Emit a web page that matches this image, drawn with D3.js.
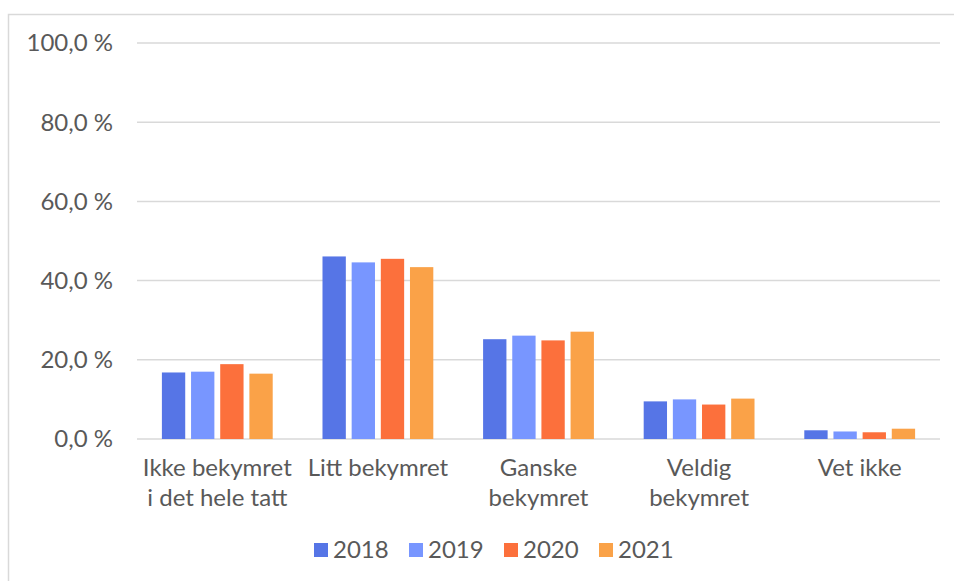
<!DOCTYPE html>
<html>
<head>
<meta charset="utf-8">
<script src="https://cdn.jsdelivr.net/npm/d3@7"></script>
<style>
  body { margin: 0; background: #fff; }
  svg { display: block; font-family: Lato, "Noto Sans", sans-serif; }
</style>
</head>
<body>
<div id="chart"></div>
<script>
const categories = [
  ["Ikke bekymret", "i det hele tatt"],
  ["Litt bekymret"],
  ["Ganske", "bekymret"],
  ["Veldig", "bekymret"],
  ["Vet ikke"]
];
const years = ["2018", "2019", "2020", "2021"];
const values2018 = [16.8, 46.1, 25.2, 9.5, 2.2];
const values2019 = [17.0, 44.6, 26.1, 10.0, 1.9];
const values2020 = [18.9, 45.5, 24.9, 8.7, 1.7];
const values2021 = [16.5, 43.4, 27.1, 10.2, 2.6];
const yTicks = [0, 20, 40, 60, 80, 100];
const colors = ["#5675E6", "#7896FF", "#FC703C", "#FAA248"];

const series = [values2018, values2019, values2020, values2021];
const data = categories.map((c, i) => ({
  key: i,
  label: c,
  vals: years.map((y, j) => ({year: y, value: series[j][i]}))
}));

const width = 954, height = 581;
const margin = {top: 43, right: 14, bottom: 142, left: 137};
const fontSize = 24;

const svg = d3.select("#chart").append("svg")
  .attr("width", width)
  .attr("height", height);

// outer frame
svg.append("path")
  .attr("d", `M8.5,${height}V14.5H${width}`)
  .attr("fill", "none")
  .attr("stroke", "#d9d9d9")
  .attr("stroke-width", 1.5);

const x0 = d3.scaleBand()
  .domain(data.map(d => d.key))
  .range([margin.left, width - margin.right])
  .paddingInner(0.31)
  .paddingOuter(0.155);

const x1 = d3.scaleBand()
  .domain(years)
  .range([0, x0.bandwidth()])
  .paddingInner(0.2);

const y = d3.scaleLinear()
  .domain([0, 100])
  .range([height - margin.bottom, margin.top]);

// grid
svg.append("g")
  .selectAll("line")
  .data(yTicks)
  .join("line")
  .attr("x1", margin.left)
  .attr("x2", width - margin.right)
  .attr("y1", d => y(d))
  .attr("y2", d => y(d))
  .attr("stroke", "#d9d9d9")
  .attr("stroke-width", 1.5);

// y labels
svg.append("g")
  .selectAll("text")
  .data(yTicks)
  .join("text")
  .attr("x", 113)
  .attr("y", d => y(d))
  .attr("dy", "0.35em")
  .attr("text-anchor", "end")
  .attr("fill", "#595959")
  .attr("font-size", fontSize)
  .text(d => d.toFixed(1).replace(".", ",") + " %");

// bars
svg.append("g")
  .selectAll("g")
  .data(data)
  .join("g")
  .attr("transform", d => `translate(${x0(d.key)},0)`)
  .selectAll("rect")
  .data(d => d.vals)
  .join("rect")
  .attr("x", d => x1(d.year))
  .attr("y", d => y(d.value))
  .attr("width", x1.bandwidth())
  .attr("height", d => y(0) - y(d.value))
  .attr("fill", (d, i) => colors[i]);

// x labels
const xl = svg.append("g")
  .selectAll("text")
  .data(data)
  .join("text")
  .attr("text-anchor", "middle")
  .attr("fill", "#595959")
  .attr("font-size", fontSize)
  .attr("transform", d => `translate(${x0(d.key) + x0.bandwidth() / 2},476)`);
xl.selectAll("tspan")
  .data(d => d.label)
  .join("tspan")
  .attr("x", 0)
  .attr("y", (d, i) => i * 30)
  .text(d => d);

// legend
const legend = svg.append("g")
  .selectAll("g")
  .data(years)
  .join("g")
  .attr("transform", (d, i) => `translate(${314 + i * 95},550)`);
legend.append("rect")
  .attr("x", 0)
  .attr("y", -7)
  .attr("width", 14)
  .attr("height", 14)
  .attr("fill", (d, i) => colors[i]);
legend.append("text")
  .attr("x", 19)
  .attr("dy", "0.35em")
  .attr("fill", "#595959")
  .attr("font-size", fontSize)
  .text(d => d);
</script>
</body>
</html>
